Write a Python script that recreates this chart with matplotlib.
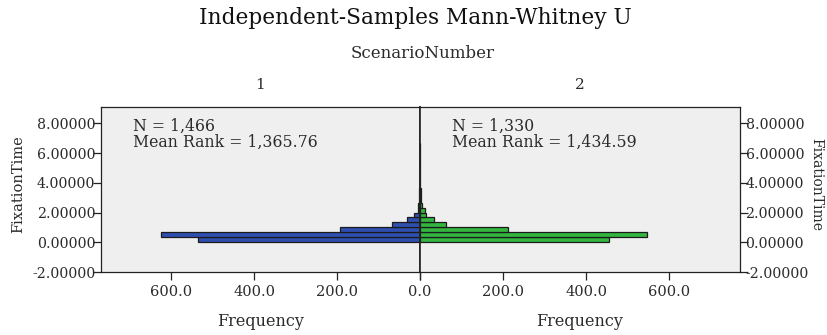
import matplotlib
matplotlib.use("Agg")
import matplotlib.pyplot as plt
import numpy as np

plt.rcParams.update({"font.family": "DejaVu Serif", "font.size": 10})

# histogram of FixationTime per scenario (bins start at 0)
BIN_WIDTH = 1 / 3
counts_1 = [535, 626, 193, 68, 31, 14, 5, 4, 3, 2, 2, 1, 1, 1, 1, 0, 1, 0, 1, 1]
counts_2 = [455, 547, 211, 62, 34, 14, 13, 5, 3, 2, 2, 1, 1, 1, 0, 1, 1, 0, 1, 1]
groups = ["1", "2"]
n_labels = ["1,466", "1,330"]
mean_ranks = ["1,365.76", "1,434.59"]
y_ticks = [-2, 0, 2, 4, 6, 8]
x_ticks = [0, 200, 400, 600]

BLUE = "#2f4fb0"
GREEN = "#33b540"
EDGE = "#1b1b1b"
BG = "#efefef"
TXT = "#2b2b2b"

fig = plt.figure(figsize=(8.28, 3.35), dpi=100)
L, M, R = 101 / 828, 420 / 828, 740 / 828
B, T = 1 - 272 / 335, 1 - 107 / 335
ax1 = fig.add_axes([L, B, M - L, T - B])
ax2 = fig.add_axes([M, B, R - M, T - B], sharey=ax1)

for ax, counts, col in [(ax1, counts_1, BLUE), (ax2, counts_2, GREEN)]:
    centers = (np.arange(len(counts)) + 0.5) * BIN_WIDTH
    ax.barh(centers, counts, height=BIN_WIDTH, color=col, edgecolor=EDGE,
            linewidth=0.9, zorder=2)
    ax.set_facecolor(BG)
    ax.set_xlim(0, 770)
    ax.set_ylim(-2, 9.1)
    ax.set_xticks(x_ticks)
    ax.set_xticklabels([f"{v:.1f}" for v in x_ticks])
    ax.set_yticks(y_ticks)
    ax.set_yticklabels([f"{v:.5f}" for v in y_ticks])
    ax.tick_params(direction="out", length=6, width=0.9, colors="#222",
                   labelcolor=TXT, labelsize=10.5)
    ax.tick_params(axis="y", pad=-2, labelsize=10.2)
    ax.set_xlabel("Frequency", fontsize=11.5, color=TXT, labelpad=10)
    for s in ax.spines.values():
        s.set_color("#222")
        s.set_linewidth(0.9)

ax1.invert_xaxis()
ax1.spines["right"].set_linewidth(1.2)
ax2.spines["left"].set_linewidth(1.2)
# single "0.0" at the shared centre line
ax2.set_xticklabels([""] + [f"{v:.1f}" for v in x_ticks[1:]])
ax2.tick_params(axis="x", which="both")
ax2.yaxis.tick_right()
ax2.tick_params(axis="y", labelleft=False, labelright=True, left=False,
                right=True)

fig.text(18 / 828, 1 - 184 / 335, "FixationTime", rotation=90, ha="center",
         va="center", fontsize=10.5, color=TXT)
fig.text(816 / 828, 1 - 184 / 335, "FixationTime", rotation=-90, ha="center",
         va="center", fontsize=10, color=TXT)

for ax, g, n, mr in [(ax1, groups[0], n_labels[0], mean_ranks[0]),
                     (ax2, groups[1], n_labels[1], mean_ranks[1])]:
    ax.text(0.1, 0.935, f"N = {n}\nMean Rank = {mr}", transform=ax.transAxes,
            ha="left", va="top", fontsize=11.3, color=TXT, linespacing=0.9)
    ax.text(0.5, 1.09, g, transform=ax.transAxes, ha="center", va="bottom",
            fontsize=11, color=TXT)

fig.text(0.502, 1 - 18 / 335, "Independent-Samples Mann-Whitney U",
         ha="center", va="center", fontsize=15.6, color="#111")
fig.text(0.511, 1 - 53 / 335, "ScenarioNumber", ha="center", va="center",
         fontsize=12, color=TXT)

fig.savefig("out.png", dpi=100, facecolor="white")
